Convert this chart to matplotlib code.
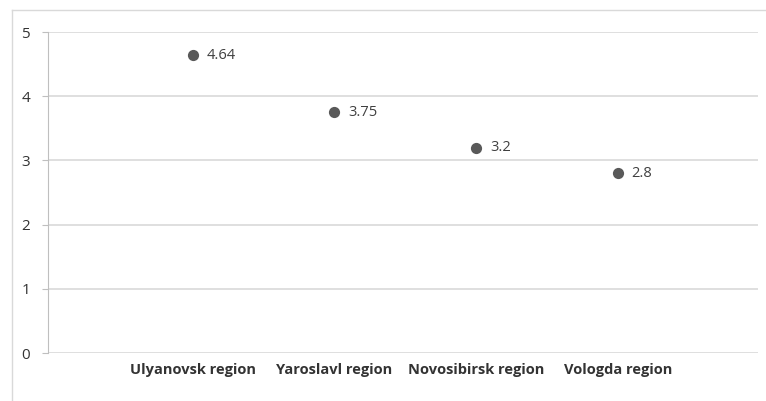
import matplotlib
matplotlib.use('Agg')
import matplotlib.pyplot as plt
from matplotlib.lines import Line2D

regions = ['Ulyanovsk region', 'Yaroslavl region', 'Novosibirsk region', 'Vologda region']
values = [4.64, 3.75, 3.2, 2.8]
value_labels = ['4.64', '3.75', '3.2', '2.8']
y_ticks = [0, 1, 2, 3, 4, 5]

plt.rcParams['font.family'] = ['Open Sans', 'DejaVu Sans']

fig = plt.figure(figsize=(7.66, 4.01), dpi=100)
ax = fig.add_axes([0.0627, 0.1197, 0.9269, 0.8003])

x = list(range(len(regions)))
ax.scatter(x, values, s=65, color='#595959', zorder=3, linewidths=0)
for xi, v, lab in zip(x, values, value_labels):
    ax.annotate(lab, (xi, v), xytext=(10, 0), textcoords='offset points',
                va='center', ha='left', fontsize=10.5, color='#404040')

ax.set_xlim(-1.02, 3.99)
ax.set_ylim(0, 5)
ax.set_yticks(y_ticks)
ax.yaxis.grid(True, color='#d9d9d9', linewidth=1.2)
ax.set_axisbelow(True)
ax.set_xticks(x)
ax.set_xticklabels(regions, fontsize=10.5, fontweight='bold', color='#333333')
ax.tick_params(axis='x', length=0, pad=7)
ax.tick_params(axis='y', length=4, color='#bfbfbf', labelsize=11, labelcolor='#333333', pad=9)
for s in ['top', 'right', 'bottom']:
    ax.spines[s].set_visible(False)
ax.spines['left'].set_color('#bfbfbf')

# outer chart frame (left and top edges)
fig.add_artist(Line2D([0.0157, 0.0157], [0.0, 0.975], transform=fig.transFigure, color='#d9d9d9', lw=1))
fig.add_artist(Line2D([0.0157, 1.0], [0.975, 0.975], transform=fig.transFigure, color='#d9d9d9', lw=1))

fig.savefig('out.png', dpi=100)
